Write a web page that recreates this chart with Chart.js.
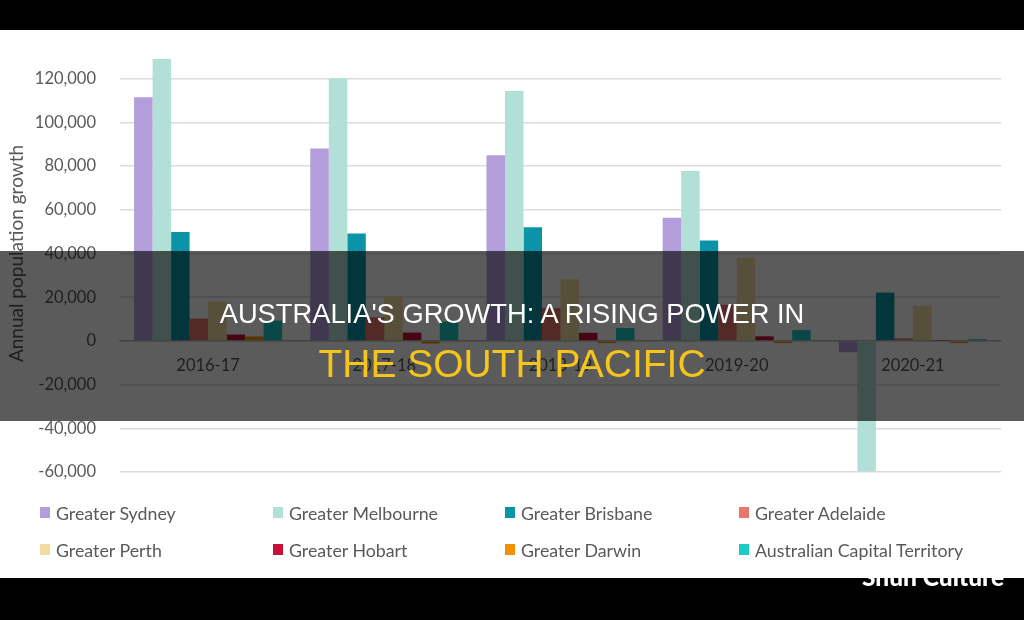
<!DOCTYPE html>
<html>
<head>
<meta charset="utf-8">
<script src="https://cdn.jsdelivr.net/npm/chart.js@4.4.1/dist/chart.umd.min.js"></script>
<style>
  html, body { margin:0; padding:0; background:#fff; }
  #wrap { position:relative; width:1024px; height:620px; overflow:hidden; background:#fff; }
  #c { position:absolute; left:0; top:0; }
  .band { position:absolute; left:0; width:1024px; background:#000; }
  #legend { position:absolute; left:0; top:0; width:1024px; height:620px; pointer-events:none; }
  .li { position:absolute; font-family:Lato, sans-serif; font-size:17.8px; color:#595959; white-space:nowrap; line-height:20px; }
  .li span.box { position:absolute; left:-16px; top:4px; width:10px; height:11px; }
  #overlay { position:absolute; left:0; top:251px; width:1024px; height:170px; background:rgba(0,0,0,0.645); }
  .t { position:absolute; left:0; width:1024px; text-align:center; font-family:"Liberation Sans", Arial, sans-serif; white-space:nowrap; }
  #t1 { top:300px; font-size:27.3px; line-height:27px; color:#fff; }
  #t2 { top:344px; font-size:39px; line-height:39px; color:#f5c51c; }
  #wm { position:absolute; left:862px; top:563px; font-family:Lato, sans-serif; font-weight:900; font-size:24.5px; line-height:28px; color:#fff; white-space:nowrap; }
</style>
</head>
<body>
<div id="wrap">
  <canvas id="c" width="1024" height="620"></canvas>
  <div id="legend"></div>
  <div id="overlay"></div>
  <div class="t" id="t1">AUSTRALIA'S GROWTH: A RISING POWER IN</div>
  <div class="t" id="t2">THE SOUTH PACIFIC</div>
  <div class="band" style="top:0;height:30px"></div>
  <div class="band" style="top:578px;height:42px"></div>
  <div id="wm">Shun Culture</div>
</div>
<script>
const categories = ['2016-17', '2017-18', '2018-19', '2019-20', '2020-21'];
const seriesNames = ['Greater Sydney', 'Greater Melbourne', 'Greater Brisbane', 'Greater Adelaide',
                     'Greater Perth', 'Greater Hobart', 'Greater Darwin', 'Australian Capital Territory'];
const sydney    = [111500,  88000,  85000, 56400,  -5200];
const melbourne = [129000, 120200, 114400, 77800, -59800];
const brisbane  = [ 49800,  49100,  52000, 46000,  22100];
const adelaide  = [ 10200,  10800,  15000, 16500,   1200];
const perth     = [ 18000,  20500,  28200, 38100,  16000];
const hobart    = [  2900,   3800,   3700,  2100,    200];
const darwin    = [  2000,  -1200,  -1000, -1000,  -1000];
const act       = [  9300,   8800,   5900,  5000,    800];
const yTicks    = [-60000, -40000, -20000, 0, 20000, 40000, 60000, 80000, 100000, 120000];

const seriesValues = [sydney, melbourne, brisbane, adelaide, perth, hobart, darwin, act];
const colors = ['#b39ddb', '#b3e0d6', '#0b94a8', '#e8766a', '#f1dca0', '#c8103a', '#f39200', '#1ccac6'];

const datasets = seriesNames.map((name, i) => ({
  label: name,
  data: seriesValues[i],
  backgroundColor: colors[i],
  borderWidth: 0,
  categoryPercentage: 0.84,
  barPercentage: 1.0
}));

const chart = new Chart(document.getElementById('c'), {
  type: 'bar',
  data: { labels: categories, datasets },
  options: {
    responsive: false,
    animation: false,
    layout: { padding: { top: 35, right: 23, bottom: 148, left: 0 } },
    plugins: { legend: { display: false }, tooltip: { enabled: false }, title: { display: false } },
    scales: {
      x: {
        type: 'category',
        position: { y: 0 },
        grid: { display: false, drawTicks: false },
        border: { display: true, color: '#bfbfbf', width: 1.5 },
        ticks: { color: '#595959', font: { family: 'Lato', size: 16.5 }, padding: 15, maxRotation: 0 }
      },
      y: {
        min: -60000, max: 140000,
        afterFit: (s) => { s.width = 120; },
        afterBuildTicks: (s) => { s.ticks = yTicks.concat([140000]).map(v => ({ value: v })); },
        grid: {
          drawTicks: false,
          color: (ctx) => (ctx.tick && ctx.tick.value === 140000) ? 'rgba(0,0,0,0)' : '#dcdcdc',
          lineWidth: 1.5
        },
        border: { display: false },
        ticks: {
          color: '#595959',
          font: { family: 'Lato', size: 16.5 },
          padding: 24,
          callback: (v) => yTicks.includes(v) ? v.toLocaleString('en-US') : ''
        },
        title: {
          display: true,
          text: 'Annual population growth',
          color: '#595959',
          font: { family: 'Lato', size: 19 },
          padding: { top: 5, bottom: 0 }
        }
      }
    }
  }
});

// HTML legend built from the chart's datasets
const legendEl = document.getElementById('legend');
const colX = [56, 289, 521, 755];
const rowY = [503, 540];
chart.data.datasets.forEach((ds, i) => {
  const d = document.createElement('div');
  d.className = 'li';
  d.style.left = colX[i % 4] + 'px';
  d.style.top = rowY[Math.floor(i / 4)] + 'px';
  const b = document.createElement('span');
  b.className = 'box';
  b.style.background = ds.backgroundColor;
  d.appendChild(b);
  d.appendChild(document.createTextNode(ds.label));
  legendEl.appendChild(d);
});
</script>
</body>
</html>
